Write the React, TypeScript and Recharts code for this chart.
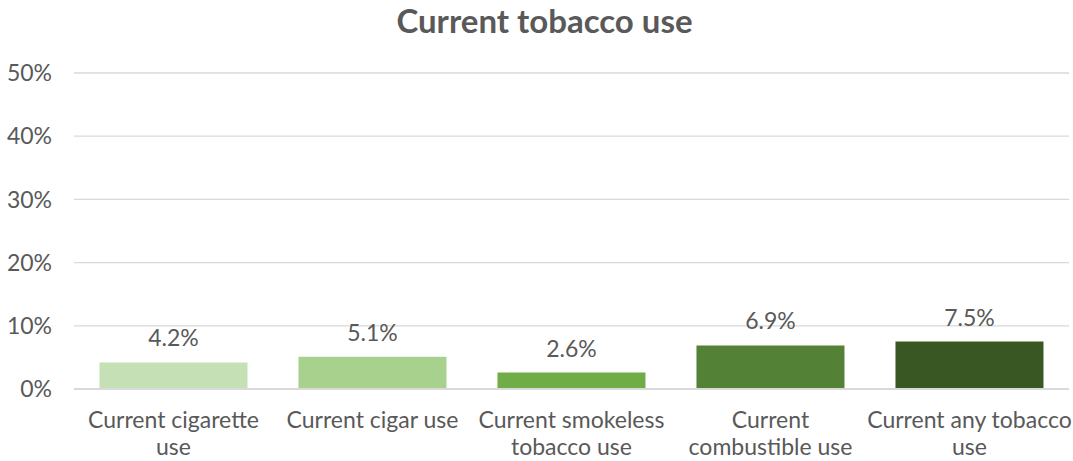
import { BarChart, Bar, XAxis, YAxis, CartesianGrid, Cell, LabelList } from "recharts";

const categories = [
  "Current cigarette use",
  "Current cigar use",
  "Current smokeless tobacco use",
  "Current combustible use",
  "Current any tobacco use",
];
const tickLines = [
  ["Current cigarette", "use"],
  ["Current cigar use"],
  ["Current smokeless", "tobacco use"],
  ["Current", "combustible use"],
  ["Current any tobacco", "use"],
];
const values = [4.2, 5.1, 2.6, 6.9, 7.5];
const barColors = ["#C5E0B4", "#A9D18E", "#70AD47", "#538135", "#385723"];
const yTicks = [0, 10, 20, 30, 40, 50];

const FONT = "Lato, 'Open Sans', sans-serif";
const TEXT = "#595959";

const data = categories.map((name, i) => ({ name, value: values[i] }));

function CategoryTick({ x, y, index }: { x?: number; y?: number; index?: number }) {
  const lines = tickLines[index ?? 0];
  return (
    <text x={x} y={(y ?? 0) + 31} textAnchor="middle" fill={TEXT} fontFamily={FONT} fontSize={23}>
      {lines.map((l, i) => (
        <tspan key={i} x={x} dy={i === 0 ? 0 : 27}>{l}</tspan>
      ))}
    </text>
  );
}

export default function App() {
  return (
    <div style={{ position: "absolute", left: 0, top: 0, width: 1073, height: 461, background: "#fff" }}>
      <div
        style={{
          position: "absolute", left: 0, top: 0, width: 1089, textAlign: "center",
          fontFamily: FONT, fontWeight: 700, fontSize: 33, color: TEXT,
        }}
      >
        Current tobacco use
      </div>
      <BarChart
        width={1073}
        height={461}
        data={data}
        margin={{ top: 73, right: 4, left: 0, bottom: 0 }}
        barCategoryGap="12.8%"
      >
        <CartesianGrid vertical={false} stroke="#D9D9D9" strokeWidth={1.3} />
        <XAxis
          dataKey="name"
          height={72}
          interval={0}
          tickLine={false}
          axisLine={{ stroke: "#D9D9D9", strokeWidth: 2 }}
          tick={<CategoryTick />}
        />
        <YAxis
          width={74}
          domain={[0, 50]}
          ticks={yTicks}
          tickFormatter={(v: number) => `${v}%`}
          axisLine={false}
          tickLine={false}
          tickSize={0}
          tickMargin={22}
          tick={{ fill: TEXT, fontFamily: FONT, fontSize: 23 }}
        />
        <Bar dataKey="value" isAnimationActive={false}>
          {data.map((d, i) => (
            <Cell key={d.name} fill={barColors[i]} />
          ))}
          <LabelList
            dataKey="value"
            position="top"
            offset={16}
            formatter={(v: number) => `${v.toFixed(1)}%`}
            style={{ fill: TEXT, fontFamily: FONT, fontSize: 23 }}
          />
        </Bar>
      </BarChart>
    </div>
  );
}
